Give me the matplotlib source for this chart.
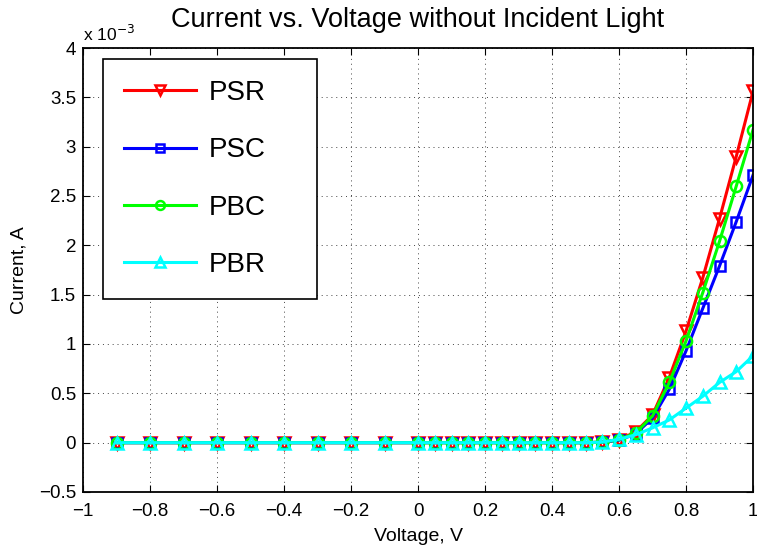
import numpy as np
import matplotlib.pyplot as plt

plt.rcParams['font.family'] = ['Liberation Sans', 'DejaVu Sans']

voltage = [-0.9, -0.8, -0.7, -0.6, -0.5, -0.4, -0.3, -0.2, -0.1, 0.0,
           0.05, 0.1, 0.15, 0.2, 0.25, 0.3, 0.35, 0.4, 0.45, 0.5,
           0.55, 0.6, 0.65, 0.7, 0.75, 0.8, 0.85, 0.9, 0.95, 1.0]

# currents in mA (plotted in A)
psr = [0] * 20 + [0.005, 0.03, 0.11, 0.28, 0.66, 1.13, 1.67, 2.27, 2.90, 3.56]
psc = [0] * 20 + [0.004, 0.025, 0.09, 0.25, 0.54, 0.93, 1.36, 1.79, 2.24, 2.71]
pbc = [0] * 20 + [0.005, 0.03, 0.10, 0.27, 0.61, 1.03, 1.52, 2.04, 2.60, 3.17]
pbr = [0] * 20 + [0.006, 0.035, 0.08, 0.15, 0.23, 0.35, 0.47, 0.61, 0.72, 0.88]

x_ticks = [-1, -0.8, -0.6, -0.4, -0.2, 0, 0.2, 0.4, 0.6, 0.8, 1]
y_ticks = [-0.5, 0, 0.5, 1, 1.5, 2, 2.5, 3, 3.5, 4]


def fmt(v):
    return ('%g' % v).replace('-', '\u2212')


fig = plt.figure(figsize=(7.57, 5.5), dpi=100)
ax = fig.add_axes([83 / 757, 58 / 550, 670 / 757, 444 / 550])

series = [(psr, 'PSR', 'red', 'v', 9),
          (psc, 'PSC', 'blue', 's', 7),
          (pbc, 'PBC', '#00ff00', 'o', 8),
          (pbr, 'PBR', 'cyan', '^', 9)]
for vals, name, col, mk, ms in series:
    ax.plot(voltage, np.array(vals) * 1e-3, color=col, lw=2.2, marker=mk,
            ms=ms, mfc='none', mec=col, mew=1.8, label=name)

ax.set_xlim(-1, 1)
ax.set_ylim(-0.5e-3, 4e-3)
ax.set_xticks(x_ticks)
ax.set_xticklabels([fmt(t) for t in x_ticks])
ax.set_yticks(np.array(y_ticks) * 1e-3)
ax.set_yticklabels([fmt(t) for t in y_ticks])
ax.tick_params(direction='in', top=True, right=True, labelsize=13.5,
               length=5, width=0.8)
ax.tick_params(axis='x', pad=8)
ax.tick_params(axis='y', pad=5)
ax.grid(True, color='#444444', linestyle=(0, (1, 4)), linewidth=0.7)
for sp in ax.spines.values():
    sp.set_linewidth(1.3)

ax.text(0.0, 1.008, r'x 10$^{-3}$', transform=ax.transAxes, fontsize=12.5,
        ha='left', va='bottom')
ax.set_title('Current vs. Voltage without Incident Light', fontsize=19.5,
             pad=15)
ax.set_xlabel('Voltage, V', fontsize=14, labelpad=6)
ax.set_ylabel('Current, A', fontsize=14, labelpad=8)

# legend box stretched to a fixed width, text left-aligned inside
leg_w, leg_h = 214 / 670, 242 / 444
leg = ax.legend(loc='upper left', mode='expand',
                bbox_to_anchor=(20 / 670, 0.975 - leg_h, leg_w, leg_h),
                borderaxespad=0, fontsize=20,
                handlelength=2.6, labelspacing=1.13, borderpad=0.75,
                handletextpad=0.45, fancybox=False, framealpha=1,
                edgecolor='black', markerscale=0.8)
leg.get_frame().set_linewidth(1.2)

fig.savefig('out.png', dpi=100)
